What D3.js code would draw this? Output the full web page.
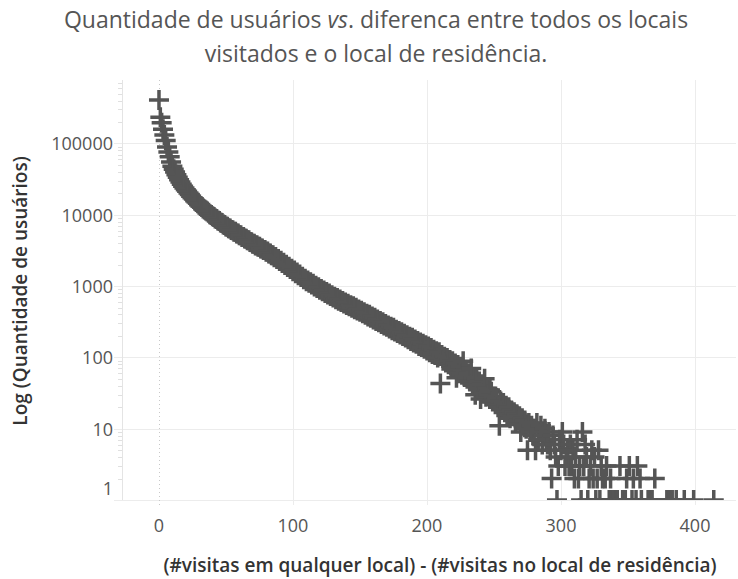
<!DOCTYPE html>
<html>
<head>
    <meta charset="utf-8">
    <title>Quantidade de usuários vs. diferenca</title>
    <script src="https://d3js.org/d3.v7.min.js"></script>
    <style>
        body { margin: 0; background: #fff; }
        svg { display: block; font-family: "Open Sans", sans-serif; }
        .grid line { stroke: #ececec; stroke-width: 1; shape-rendering: crispEdges; }
        .tick-label { fill: #555; font-size: 18px; }
        .axis-title { fill: #333; font-size: 19px; font-weight: 600; }
        .title { fill: #555; font-size: 23px; }
        .mark { stroke: #555; stroke-width: 3.5; fill: none; }
    </style>
</head>
<body>
<svg width="738" height="579"></svg>
<script>
    // contagem de usuários por diferença; índice = diferença (0..300)
    const countsByDiff = [
        407000, 234000, 195000, 158000, 132000, 110000, 89000, 76000, 65000, 55000,
        48000, 43600, 39800, 36300, 33500, 30900, 28800, 26900, 25100, 23700,
        22400, 21400, 20200, 19300, 18200, 17400, 16600, 15800, 15100, 14500,
        13800, 13300, 12900, 12300, 11900, 11500, 11100, 10700, 10200, 9900,
        9550, 9300, 8900, 8700, 8350, 8200, 7800, 7650, 7300, 7200,
        6850, 6780, 6500, 6420, 6120, 6080, 5800, 5760, 5480, 5450,
        5180, 5150, 4900, 4880, 4640, 4620, 4380, 4380, 4150, 4130,
        3930, 3920, 3720, 3730, 3550, 3560, 3370, 3380, 3200, 3220,
        3040, 3050, 2860, 2870, 2700, 2710, 2540, 2550, 2390, 2400,
        2250, 2260, 2110, 2120, 1970, 1990, 1850, 1870, 1730, 1750,
        1620, 1650, 1520, 1550, 1420, 1450, 1340, 1350, 1250, 1270,
        1170, 1200, 1110, 1130, 1050, 1080, 990, 1015, 940, 960,
        890, 910, 845, 865, 800, 825, 760, 785, 725, 745,
        690, 710, 655, 680, 625, 650, 600, 620, 570, 590,
        545, 565, 520, 540, 495, 520, 475, 495, 455, 470,
        435, 450, 415, 430, 395, 410, 375, 395, 360, 375,
        340, 360, 325, 340, 310, 325, 295, 310, 280, 295,
        270, 280, 255, 270, 240, 260, 230, 245, 220, 235,
        210, 225, 200, 215, 190, 205, 180, 195, 170, 188,
        162, 178, 155, 170, 145, 162, 140, 155, 132, 148,
        125, 142, 118, 135, 112, 128, 108, 122, 100, 118,
        43, 108, 90, 102, 85, 98, 80, 92, 75, 88,
        70, 82, 52, 78, 60, 74, 57, 88, 53, 66,
        50, 60, 46, 70, 42, 52, 30, 50, 36, 46,
        26, 42, 31, 50, 28, 37, 30, 35, 33, 24,
        28, 22, 27, 20, 11, 24, 19, 23, 17, 21,
        16, 20, 14, 18, 15, 17, 12, 16, 13, 15,
        9, 14, 11, 13, 10, 5, 12, 9, 11, 8,
        10, 5, 12, 7, 9, 11, 6, 8, 10, 7,
        6, 9, 5, 2, 8, 6, 4, 1, 3, 7,
        5
    ];

    // cauda esparsa (diferença > 300)
    const tailDiffs = [301, 302, 303, 304, 305, 306, 307, 308, 309, 310,
        311, 312, 313, 314, 315, 316, 317, 318, 319, 320,
        321, 322, 323, 324, 325, 326, 327, 328, 329, 330,
        331, 333, 334, 336, 337, 338, 339, 341, 342, 344,
        346, 348, 349, 351, 353, 354, 356, 357, 359, 360,
        365, 367, 368, 370, 379, 381, 383, 386, 392, 399, 414];
    const tailCounts = [9, 6, 3, 4, 5, 3, 6, 3, 5, 2,
        4, 7, 2, 3, 1, 9, 3, 6, 4, 1,
        2, 3, 5, 2, 4, 1, 2, 5, 1, 3,
        2, 2, 3, 1, 2, 1, 1, 1, 1, 3,
        1, 1, 2, 3, 1, 2, 1, 3, 2, 1,
        1, 1, 1, 2, 1, 1, 1, 1, 1, 1, 1];

    const xTicks = [0, 100, 200, 300, 400];
    const yTicks = [1, 10, 100, 1000, 10000, 100000];

    const points = countsByDiff.map((c, i) => ({ diff: i, count: c }))
        .concat(tailDiffs.map((d, i) => ({ diff: d, count: tailCounts[i] })));

    // área do gráfico
    const plot = { left: 122, right: 736, top: 80, bottom: 500 };

    const svg = d3.select("svg");

    const xScale = d3.scaleLinear()
        .domain([-27.6, 430.6])
        .range([plot.left, plot.right]);

    const yScale = d3.scaleLog()
        .domain([1, 777000])
        .range([plot.bottom, plot.top]);

    // título
    const title = svg.append("text")
        .attr("class", "title")
        .attr("text-anchor", "middle")
        .attr("x", 376)
        .attr("y", 28);
    title.append("tspan").text("Quantidade de usuários ");
    title.append("tspan").style("font-style", "italic").text("vs");
    title.append("tspan").text(". diferenca entre todos os locais");
    svg.append("text")
        .attr("class", "title")
        .attr("text-anchor", "middle")
        .attr("x", 376)
        .attr("y", 62)
        .text("visitados e o local de residência.");

    // grades horizontais
    svg.append("g").attr("class", "grid")
        .selectAll("line")
        .data(yTicks)
        .join("line")
        .attr("x1", plot.left - 8)
        .attr("x2", plot.right)
        .attr("y1", d => Math.round(yScale(d)) + 0.5)
        .attr("y2", d => Math.round(yScale(d)) + 0.5);

    // grades verticais
    svg.append("g").attr("class", "grid")
        .selectAll("line")
        .data(xTicks.filter(d => d !== 0))
        .join("line")
        .attr("x1", d => Math.round(xScale(d)) + 0.5)
        .attr("x2", d => Math.round(xScale(d)) + 0.5)
        .attr("y1", plot.top)
        .attr("y2", plot.bottom + 5);

    // linha do zero pontilhada
    svg.append("line")
        .attr("x1", Math.round(xScale(0)) + 0.5)
        .attr("x2", Math.round(xScale(0)) + 0.5)
        .attr("y1", plot.top)
        .attr("y2", plot.bottom + 5)
        .attr("stroke", "#c8c8c8")
        .attr("stroke-dasharray", "1,3");

    // eixo y: linha e marcas menores
    svg.append("line")
        .attr("x1", plot.left + 0.5)
        .attr("x2", plot.left + 0.5)
        .attr("y1", plot.top)
        .attr("y2", plot.bottom)
        .attr("stroke", "#e4e4e4");

    const minorTicks = yScale.ticks().filter(d => d < 777000 && yTicks.indexOf(d) < 0);
    svg.append("g")
        .selectAll("line")
        .data(minorTicks)
        .join("line")
        .attr("x1", plot.left - 4)
        .attr("x2", plot.left)
        .attr("y1", d => Math.round(yScale(d)) + 0.5)
        .attr("y2", d => Math.round(yScale(d)) + 0.5)
        .attr("stroke", "#e0e0e0");

    // rótulos do eixo y
    svg.append("g")
        .selectAll("text")
        .data(yTicks)
        .join("text")
        .attr("class", "tick-label")
        .attr("text-anchor", "end")
        .attr("dominant-baseline", "central")
        .attr("x", 113)
        .attr("y", d => d === 1 ? yScale(d) - 12 : yScale(d))
        .text(d => d);

    // rótulos do eixo x
    svg.append("g")
        .selectAll("text")
        .data(xTicks)
        .join("text")
        .attr("class", "tick-label")
        .attr("text-anchor", "middle")
        .attr("dominant-baseline", "central")
        .attr("x", d => xScale(d))
        .attr("y", 525)
        .text(d => d);

    // títulos dos eixos
    svg.append("text")
        .attr("class", "axis-title")
        .attr("text-anchor", "middle")
        .attr("x", 440)
        .attr("y", 572)
        .text("(#visitas em qualquer local) - (#visitas no local de residência)");

    svg.append("text")
        .attr("class", "axis-title")
        .attr("text-anchor", "middle")
        .attr("transform", "translate(27,291) rotate(-90)")
        .text("Log (Quantidade de usuários)");

    // marcas em cruz
    svg.append("clipPath").attr("id", "clip")
        .append("rect")
        .attr("x", plot.left)
        .attr("y", 0)
        .attr("width", plot.right - plot.left)
        .attr("height", plot.bottom);

    svg.append("g")
        .attr("clip-path", "url(#clip)")
        .selectAll("path")
        .data(points)
        .join("path")
        .attr("class", "mark")
        .attr("transform", d => `translate(${xScale(d.diff)},${yScale(d.count)})`)
        .attr("d", "M-10,0H10M0,-10V10");
</script>
</body>
</html>
